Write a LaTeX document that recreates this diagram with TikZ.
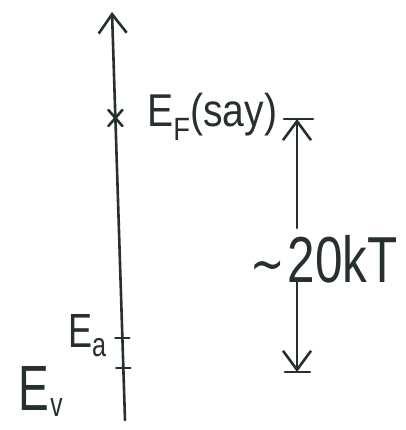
\documentclass[tikz,border=0pt]{standalone}
\usepackage{fontspec}
\setmainfont{Liberation Sans}
\newfontfamily\symfont{DejaVu Sans}
\usetikzlibrary{arrows.meta}
\definecolor{ink}{RGB}{38,48,44}
\begin{document}
\begin{tikzpicture}[x=1pt,y=-1pt,
  ink line/.style={draw=ink,line width=2.6pt,line cap=round},
  barb/.style={-{Straight Barb[length=19pt,width=28pt,line width=2.6pt]}},
  lbl/.style={text=ink,inner sep=0pt}]
\useasboundingbox (0,0) rectangle (405,430);
% main axis
\coordinate (bot) at (125,420);
\coordinate (top) at (112,12);
\draw[ink line,barb] (bot) -- (top);
% E_F star mark
\coordinate (star) at (115.4,118);
\draw[ink line] ([shift={(-7,-8)}]star) -- ([shift={(7,8)}]star);
\draw[ink line] ([shift={(-7,8)}]star) -- ([shift={(7,-8)}]star);
% ticks
\coordinate (ea) at (122.4,338);
\coordinate (ev) at (123.3,368);
\draw[ink line] ([xshift=-7pt]ea) -- ([xshift=7pt]ea);
\draw[ink line] ([xshift=-7pt]ev) -- ([xshift=7pt]ev);
% labels
\node[lbl,anchor=base west] (eflbl) at (147,127)
  {\fontsize{46}{46}\selectfont\scalebox{0.85}[1]{E\textsubscript{F}(say)}};
\node[lbl,anchor=base west] (ealbl) at (68,347)
  {\fontsize{48}{48}\selectfont\scalebox{0.75}[1]{E\textsubscript{a}}};
\node[lbl,anchor=base west] (evlbl) at (18,410)
  {\fontsize{64}{64}\selectfont\scalebox{0.72}[1]{E\kern2pt\raisebox{-6pt}{\fontsize{34}{34}\selectfont v}}};
% ~20kT arrow
\coordinate (rt) at (297,119);
\coordinate (rb) at (297,372);
\coordinate (rgt) at (297,228);
\coordinate (rgb) at (297,280);
\draw[ink line,barb] (rgt) -- (rt);
\draw[ink line,barb] (rgb) -- (rb);
\draw[ink line] ([xshift=-13pt]rt) -- ([xshift=16pt]rt);
\draw[ink line] ([xshift=-12pt]rb) -- ([xshift=13pt]rb);
\node[lbl,anchor=base west] (ktlbl) at (250,282)
  {\fontsize{65}{65}\selectfont\scalebox{0.76}[1]{{\symfont\fontsize{54}{54}\selectfont ∼}\kern4pt 20kT}};
\end{tikzpicture}
\end{document}
